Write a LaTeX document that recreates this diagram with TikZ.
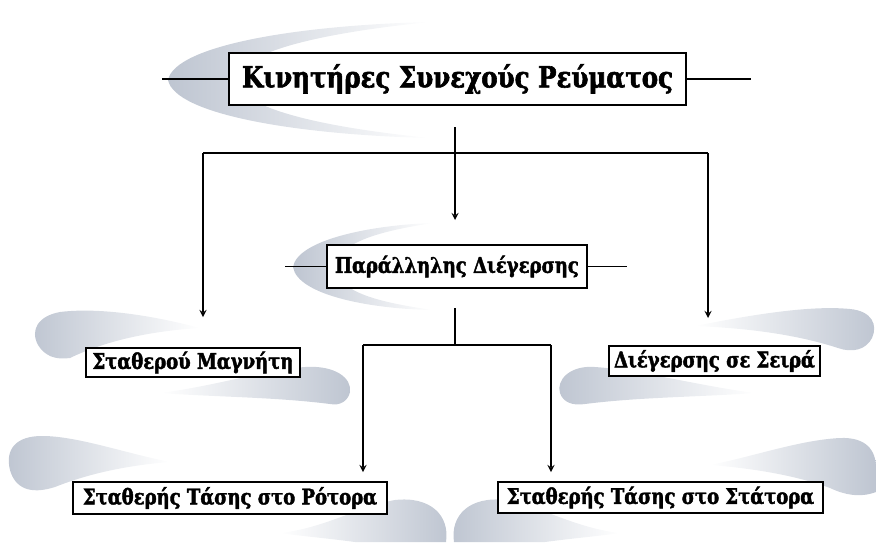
\documentclass[tikz,border=0pt]{standalone}
\usepackage{fontspec}
\setmainfont{DejaVu Serif}
\newfontfamily\heavyfont{DejaVu Serif Bold}[FakeStretch=0.84, FakeBold=2]
\usetikzlibrary{shapes,arrows,positioning,calc}
\usepackage{xcolor}
\definecolor{swoosh}{RGB}{190,197,209}

\begin{document}
\begin{tikzpicture}[
        titlebox/.style={rectangle, draw=black, fill=white, line width=0.9pt, minimum width=9.14cm, minimum height=1.04cm, inner sep=1pt, font=\heavyfont\fontsize{16.6}{19}\selectfont},
        typebox/.style={rectangle, draw=black, fill=white, line width=0.8pt, inner sep=1pt, font=\heavyfont\fontsize{12.2}{14}\selectfont},
        fadeleft/.style={left color=swoosh, middle color=swoosh!25, right color=white},
        faderight/.style={left color=white, middle color=swoosh!25, right color=swoosh},
        line/.style={thick},
        stub/.style={semithick},
        arrow/.style={->, thick, >=stealth}
    ]
        \useasboundingbox (0,0) rectangle (17.52,-10.84);

        % Swooshes behind the boxes
        \shade[fadeleft] (8.6,-0.44) .. controls (6,-0.5) and (3.5,-0.9) .. (3.36,-1.6)
            .. controls (3.5,-2.3) and (6,-2.7) .. (8.6,-2.76)
            .. controls (6.6,-2.56) and (4.8,-2.2) .. (4.7,-1.6)
            .. controls (4.8,-1.0) and (6.6,-0.64) .. (8.6,-0.44);
        \shade[fadeleft] (8.66,-4.46) .. controls (7.4,-4.5) and (5.95,-4.8) .. (5.86,-5.34)
            .. controls (5.95,-5.9) and (7.4,-6.18) .. (8.66,-6.2)
            .. controls (7.6,-6.05) and (6.75,-5.85) .. (6.7,-5.34)
            .. controls (6.75,-4.85) and (7.6,-4.62) .. (8.66,-4.46);
        \shade[fadeleft] (4.0,-6.56) .. controls (3.1,-6.32) and (2.0,-6.14) .. (1.2,-6.24)
            .. controls (0.76,-6.32) and (0.6,-6.6) .. (0.76,-6.9)
            .. controls (0.9,-7.12) and (1.1,-7.2) .. (1.4,-7.16)
            .. controls (2.1,-6.82) and (3.0,-6.62) .. (4.0,-6.56);
        \shade[faderight] (3.2,-7.86) .. controls (4.3,-7.72) and (5.3,-7.4) .. (6.1,-7.34)
            .. controls (6.7,-7.3) and (7.04,-7.56) .. (7.0,-7.84)
            .. controls (6.96,-8.02) and (6.8,-8.12) .. (6.6,-8.08)
            .. controls (5.5,-7.94) and (4.3,-7.94) .. (3.2,-7.86);
        \shade[faderight] (13.9,-6.52) .. controls (15.0,-6.3) and (16.2,-6.1) .. (17.0,-6.18)
            .. controls (17.44,-6.22) and (17.56,-6.5) .. (17.44,-6.76)
            .. controls (17.32,-7.0) and (17.04,-7.06) .. (16.76,-6.96)
            .. controls (15.9,-6.68) and (14.9,-6.56) .. (13.9,-6.52);
        \shade[fadeleft] (15.1,-7.86) .. controls (14.0,-7.72) and (12.8,-7.4) .. (11.9,-7.34)
            .. controls (11.4,-7.3) and (11.12,-7.6) .. (11.2,-7.86)
            .. controls (11.26,-8.04) and (11.44,-8.12) .. (11.7,-8.08)
            .. controls (12.8,-7.94) and (14.0,-7.94) .. (15.1,-7.86);
        \shade[fadeleft] (3.4,-9.24) .. controls (2.5,-9.06) and (1.6,-8.74) .. (0.9,-8.72)
            .. controls (0.3,-8.7) and (0.1,-9.0) .. (0.2,-9.4)
            .. controls (0.3,-9.76) and (0.6,-9.9) .. (1.1,-9.74)
            .. controls (1.8,-9.46) and (2.6,-9.3) .. (3.4,-9.24);
        \shade[faderight] (5.6,-10.66) .. controls (6.5,-10.56) and (7.2,-10.12) .. (7.9,-10.0)
            .. controls (8.6,-9.92) and (9.0,-10.3) .. (8.92,-10.84) -- (7.1,-10.84)
            .. controls (6.5,-10.76) and (6.0,-10.72) .. (5.6,-10.66);
        \shade[fadeleft] (12.4,-10.66) .. controls (11.5,-10.56) and (10.8,-10.12) .. (10.1,-10.0)
            .. controls (9.4,-9.92) and (9.0,-10.3) .. (9.08,-10.84) -- (10.9,-10.84)
            .. controls (11.5,-10.76) and (12.0,-10.72) .. (12.4,-10.66);
        \shade[faderight] (14.2,-9.3) .. controls (15.1,-9.12) and (16.0,-8.8) .. (16.8,-8.76)
            .. controls (17.32,-8.74) and (17.52,-9.0) .. (17.52,-9.36) -- (17.52,-9.84)
            .. controls (17.2,-9.96) and (16.9,-9.9) .. (16.6,-9.76)
            .. controls (15.9,-9.5) and (15.0,-9.36) .. (14.2,-9.3);

        % Motor types
        \node[titlebox] (dc) at (9.15,-1.58) {Κινητήρες Συνεχούς Ρεύματος};
        \node[typebox, minimum width=5.2cm, minimum height=0.86cm] (shunt) at (9.14,-5.33) {Παράλληλης Διέγερσης};
        \node[typebox, minimum width=4.28cm, minimum height=0.58cm] (pm) at (3.86,-7.25) {Σταθερού Μαγνήτη};
        \node[typebox, minimum width=4.22cm, minimum height=0.6cm] (series) at (14.29,-7.22) {Διέγερσης σε Σειρά};
        \node[typebox, minimum width=6.28cm, minimum height=0.64cm] (rotor) at (4.6,-9.96) {Σταθερής Τάσης στο Ρότορα};
        \node[typebox, minimum width=6.5cm, minimum height=0.62cm] (stator) at (13.21,-9.95) {Σταθερής Τάσης στο Στάτορα};

        % Side stubs
        \coordinate (dcL) at (3.24,-1.58);
        \coordinate (dcR) at (15.02,-1.58);
        \coordinate (shuntL) at (5.7,-5.33);
        \coordinate (shuntR) at (12.54,-5.33);
        \draw[stub] (dcL) -- (dc.west);
        \draw[stub] (dc.east) -- (dcR);
        \draw[stub] (shuntL) -- (shunt.west);
        \draw[stub] (shunt.east) -- (shuntR);

        % Upper tree
        \coordinate (dcdrop) at (9.1,-2.54);
        \coordinate (bus) at (9.1,-3.06);
        \coordinate (busL) at (4.06,-3.06);
        \coordinate (busR) at (14.16,-3.06);
        \coordinate (shunttip) at (9.1,-4.4);
        \coordinate (pmtip) at (4.06,-6.34);
        \coordinate (seriestip) at (14.16,-6.36);
        \draw[line] (dcdrop) -- (bus);
        \draw[line] (busL) -- (busR);
        \draw[arrow] (bus) -- (shunttip);
        \draw[arrow] (busL) -- (pmtip);
        \draw[arrow] (busR) -- (seriestip);

        % Lower tree
        \coordinate (shuntdrop) at (9.1,-6.16);
        \coordinate (pbus) at (9.1,-6.9);
        \coordinate (pbusL) at (7.26,-6.9);
        \coordinate (pbusR) at (11.02,-6.9);
        \coordinate (rotortip) at (7.26,-9.44);
        \coordinate (statortip) at (11.02,-9.44);
        \draw[line] (shuntdrop) -- (pbus);
        \draw[line] (pbusL) -- (pbusR);
        \draw[arrow] (pbusL) -- (rotortip);
        \draw[arrow] (pbusR) -- (statortip);

    \end{tikzpicture}
\end{document}
